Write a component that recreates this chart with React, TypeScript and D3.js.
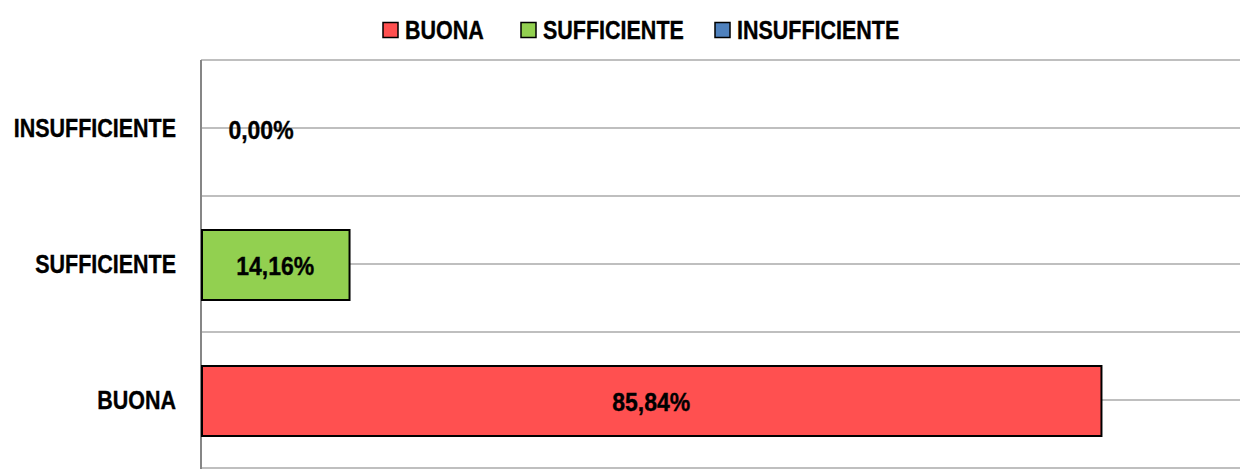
import React, { useEffect, useRef } from "react";
import * as d3 from "d3";

const categories = ["BUONA", "SUFFICIENTE", "INSUFFICIENTE"];
const values = [85.84, 14.16, 0.0];
const colors = ["#FF5050", "#92D050", "#4F81BD"];
const legendLabels = ["BUONA", "SUFFICIENTE", "INSUFFICIENTE"];

const W = 1240;
const H = 471;
const FONT = "'Liberation Sans', Arial, sans-serif";

export default function App() {
  const ref = useRef<SVGSVGElement>(null);

  useEffect(() => {
    const svg = d3.select(ref.current);
    svg.selectAll("*").remove();

    const x0 = 201;
    const x = d3.scaleLinear().domain([0, 100]).range([x0, 1250]);
    const y = d3
      .scaleBand<string>()
      .domain([...categories].reverse())
      .range([60, 468])
      .paddingInner(0)
      .paddingOuter(0);

    const g = svg.append("g");

    const addText = (
      parent: d3.Selection<SVGGElement, unknown, null, undefined>,
      tx: number,
      ty: number,
      txt: string,
      anchor: string,
      size: number,
      sx: number
    ) => {
      parent
        .append("g")
        .attr("transform", `translate(${tx},${ty}) scale(${sx},1)`)
        .append("text")
        .attr("x", 0)
        .attr("y", 0)
        .attr("text-anchor", anchor)
        .attr("dominant-baseline", "central")
        .attr("font-family", FONT)
        .attr("font-weight", "bold")
        .attr("font-size", size)
        .attr("fill", "#000")
        .attr("stroke", "#000")
        .attr("stroke-width", 0.35)
        .text(txt);
    };

    // gridlines at band boundaries and band centers
    const gridYs: number[] = [];
    categories.forEach((c) => {
      const b = y(c)!;
      gridYs.push(b, b + y.bandwidth() / 2, b + y.bandwidth());
    });
    const uniqueYs = Array.from(new Set(gridYs.map((v) => Math.round(v))));
    g.selectAll("line.grid")
      .data(uniqueYs)
      .enter()
      .append("line")
      .attr("x1", x0)
      .attr("x2", W)
      .attr("y1", (d) => d)
      .attr("y2", (d) => d)
      .attr("stroke", "#BFBFBF")
      .attr("stroke-width", 2);

    // axis line
    g.append("line")
      .attr("x1", x0)
      .attr("x2", x0)
      .attr("y1", 60)
      .attr("y2", 469)
      .attr("stroke", "#868686")
      .attr("stroke-width", 2);

    const barH = 70;
    const data = categories.map((c, i) => ({ c, v: values[i], color: colors[i] }));

    g.selectAll("rect.bar")
      .data(data.filter((d) => d.v > 0))
      .enter()
      .append("rect")
      .attr("x", x(0) + 1)
      .attr("y", (d) => y(d.c)! + y.bandwidth() / 2 - barH / 2 + 1)
      .attr("width", (d) => x(d.v) - x(0) - 1)
      .attr("height", barH)
      .attr("fill", (d) => d.color)
      .attr("stroke", "#000")
      .attr("stroke-width", 2);

    // data labels
    data.forEach((d) => {
      const cx = d.v > 0 ? (x(0) + x(d.v)) / 2 : x(0) + 60;
      addText(
        g,
        cx,
        y(d.c)! + y.bandwidth() / 2 + 2,
        d.v.toFixed(2).replace(".", ",") + "%",
        "middle",
        25,
        0.92
      );
    });

    // category labels
    categories.forEach((c) => {
      addText(g, 176, y(c)! + y.bandwidth() / 2, c, "end", 25, 0.86);
    });

    // legend
    const markerX = [383, 521, 715];
    legendLabels.forEach((l, i) => {
      g.append("rect")
        .attr("x", markerX[i])
        .attr("y", 22.5)
        .attr("width", 15)
        .attr("height", 15)
        .attr("fill", colors[i])
        .attr("stroke", "#000")
        .attr("stroke-width", 1.5);
      addText(g, markerX[i] + 22, 30, l, "start", 25, 0.86);
    });
  }, []);

  return (
    <svg
      ref={ref}
      width={W}
      height={H}
      style={{ position: "absolute", left: 0, top: 0, background: "#fff" }}
    />
  );
}
